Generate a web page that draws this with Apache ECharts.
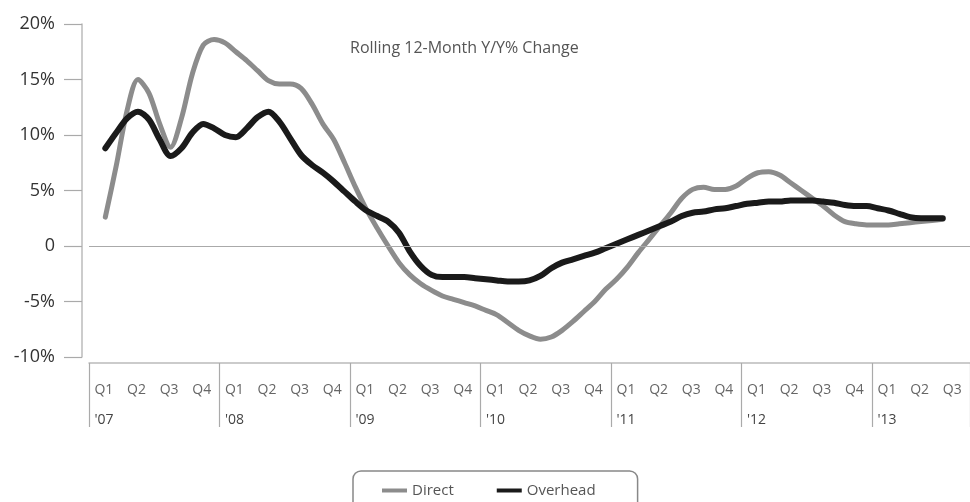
<!DOCTYPE html>
<html><head><meta charset="utf-8">
<script src="https://cdn.jsdelivr.net/npm/echarts@6/dist/echarts.min.js"></script>
<style>html,body{margin:0;padding:0;background:#fff}#c{width:970px;height:502px}</style>
</head><body><div id="c"></div>
<script>
// ---- data ----
const years = ["'07", "'08", "'09", "'10", "'11", "'12", "'13"];
const quarterNames = ["Q1", "Q2", "Q3", "Q4"];
const monthCount = 81; // Jan '07 .. Sep '13 (monthly categories)
const yTickValues = [-10, -5, 0, 5, 10, 15, 20];

// monthly rolling 12-month Y/Y % values, Feb '07 .. Jul '13
const directValues = [null,
  2.6, 7.2, 12.2, 15.0, 13.8, 11.0, 8.9, 11.5, 15.5, 18.1,
  18.6, 18.3, 17.5, 16.7, 15.8, 14.9, 14.6, 14.6, 14.2, 12.8,
  11.0, 9.6, 7.5, 5.3, 3.3, 1.6, 0.0, -1.5, -2.6, -3.4,
  -4.0, -4.5, -4.8, -5.1, -5.4, -5.8, -6.2, -6.9, -7.6, -8.1,
  -8.4, -8.2, -7.6, -6.8, -5.9, -5.0, -3.9, -3.0, -1.9, -0.6,
  0.6, 1.8, 3.0, 4.3, 5.1, 5.3, 5.1, 5.1, 5.4, 6.1,
  6.6, 6.7, 6.4, 5.7, 5.0, 4.3, 3.6, 2.8, 2.2, 2.0,
  1.9, 1.9, 1.9, 2.0, 2.1, 2.2, 2.3, 2.4,
  null, null];
const overheadValues = [null,
  8.8, 10.2, 11.5, 12.1, 11.4, 9.6, 8.1, 8.8, 10.2, 11.0,
  10.6, 10.0, 9.8, 10.6, 11.6, 12.1, 11.2, 9.7, 8.2, 7.3,
  6.6, 5.8, 4.9, 4.0, 3.2, 2.7, 2.2, 1.2, -0.5, -1.8,
  -2.6, -2.8, -2.8, -2.8, -2.9, -3.0, -3.1, -3.2, -3.2, -3.1,
  -2.7, -2.0, -1.5, -1.2, -0.9, -0.6, -0.2, 0.2, 0.6, 1.0,
  1.4, 1.8, 2.2, 2.7, 3.0, 3.1, 3.3, 3.4, 3.6, 3.8,
  3.9, 4.0, 4.0, 4.1, 4.1, 4.1, 4.0, 3.9, 3.7, 3.6,
  3.6, 3.4, 3.2, 2.9, 2.6, 2.5, 2.5, 2.5,
  null, null];

// monthly categories built from the years list
const months = [];
years.forEach(y => { for (let m = 1; m <= 12; m++) months.push(y + '-' + m); });
const categories = months.slice(0, monthCount);

const FONT = '"Open Sans", "Liberation Sans", sans-serif';
const chart = echarts.init(document.getElementById('c'), null, {renderer: 'canvas'});
chart.setOption({
  backgroundColor: '#fff',
  animation: false,
  title: {
    text: 'Rolling 12-Month Y/Y% Change',
    left: 345, top: 35,
    textStyle: {fontFamily: FONT, fontSize: 16, fontWeight: 'normal', color: '#555'}
  },
  legend: {
    data: ['Direct', 'Overhead'],
    left: 353, top: 471,
    padding: [12, 42, 30, 29],
    itemGap: 43,
    itemWidth: 25, itemHeight: 4,
    icon: 'rect',
    borderColor: '#888', borderWidth: 1.5, borderRadius: 8,
    textStyle: {fontFamily: FONT, fontSize: 15, color: '#555'}
  },
  grid: {left: 89, top: 24, width: 885, height: 333},
  xAxis: {
    type: 'category',
    data: categories,
    boundaryGap: true,
    offset: 6,
    axisLine: {onZero: false, lineStyle: {color: '#bbb', width: 1.5}},
    axisTick: {
      show: true, length: 64,
      interval: (i) => i % 12 === 0,
      lineStyle: {color: '#aaa', width: 1.2}
    },
    axisLabel: {
      interval: (i) => i % 3 === 0,
      align: 'left',
      margin: 12,
      formatter: (v) => {
        const i = categories.indexOf(v);
        const q = quarterNames[Math.floor(i / 3) % 4];
        if (i % 12 === 0) return '{q|' + q + '}\n{y|' + years[i / 12] + '}';
        return '{q|' + q + '}';
      },
      rich: {
        q: {fontFamily: FONT, fontSize: 14, color: '#666', lineHeight: 30},
        y: {fontFamily: FONT, fontSize: 14, color: '#444', lineHeight: 30}
      }
    },
    splitLine: {show: false}
  },
  yAxis: {
    type: 'value',
    min: yTickValues[0], max: yTickValues[yTickValues.length - 1], interval: 5,
    offset: 7,
    axisLine: {show: true, lineStyle: {color: '#bbb', width: 1.5}},
    axisTick: {show: true, length: 18, lineStyle: {color: '#aaa', width: 1.2}},
    axisLabel: {
      margin: 27,
      fontFamily: FONT, fontSize: 18, color: '#333',
      formatter: (v) => v === 0 ? '0' : v + '%'
    },
    splitLine: {show: false}
  },
  series: [
    {
      name: 'zero', type: 'line', data: [], z: 1, silent: true,
      markLine: {
        silent: true, symbol: 'none', label: {show: false},
        lineStyle: {color: '#aaa', width: 1.2, type: 'solid'},
        data: [{yAxis: 0}]
      }
    },
    {
      name: 'Direct', type: 'line', data: directValues, smooth: 0.3,
      showSymbol: false, symbol: 'none', z: 2,
      itemStyle: {color: '#8c8c8c'},
      lineStyle: {color: '#8c8c8c', width: 5, cap: 'round', join: 'round'}
    },
    {
      name: 'Overhead', type: 'line', data: overheadValues, smooth: 0.3,
      showSymbol: false, symbol: 'none', z: 3,
      itemStyle: {color: '#1a1a1a'},
      lineStyle: {color: '#1a1a1a', width: 6, cap: 'round', join: 'round'}
    }
  ]
});
</script></body></html>
